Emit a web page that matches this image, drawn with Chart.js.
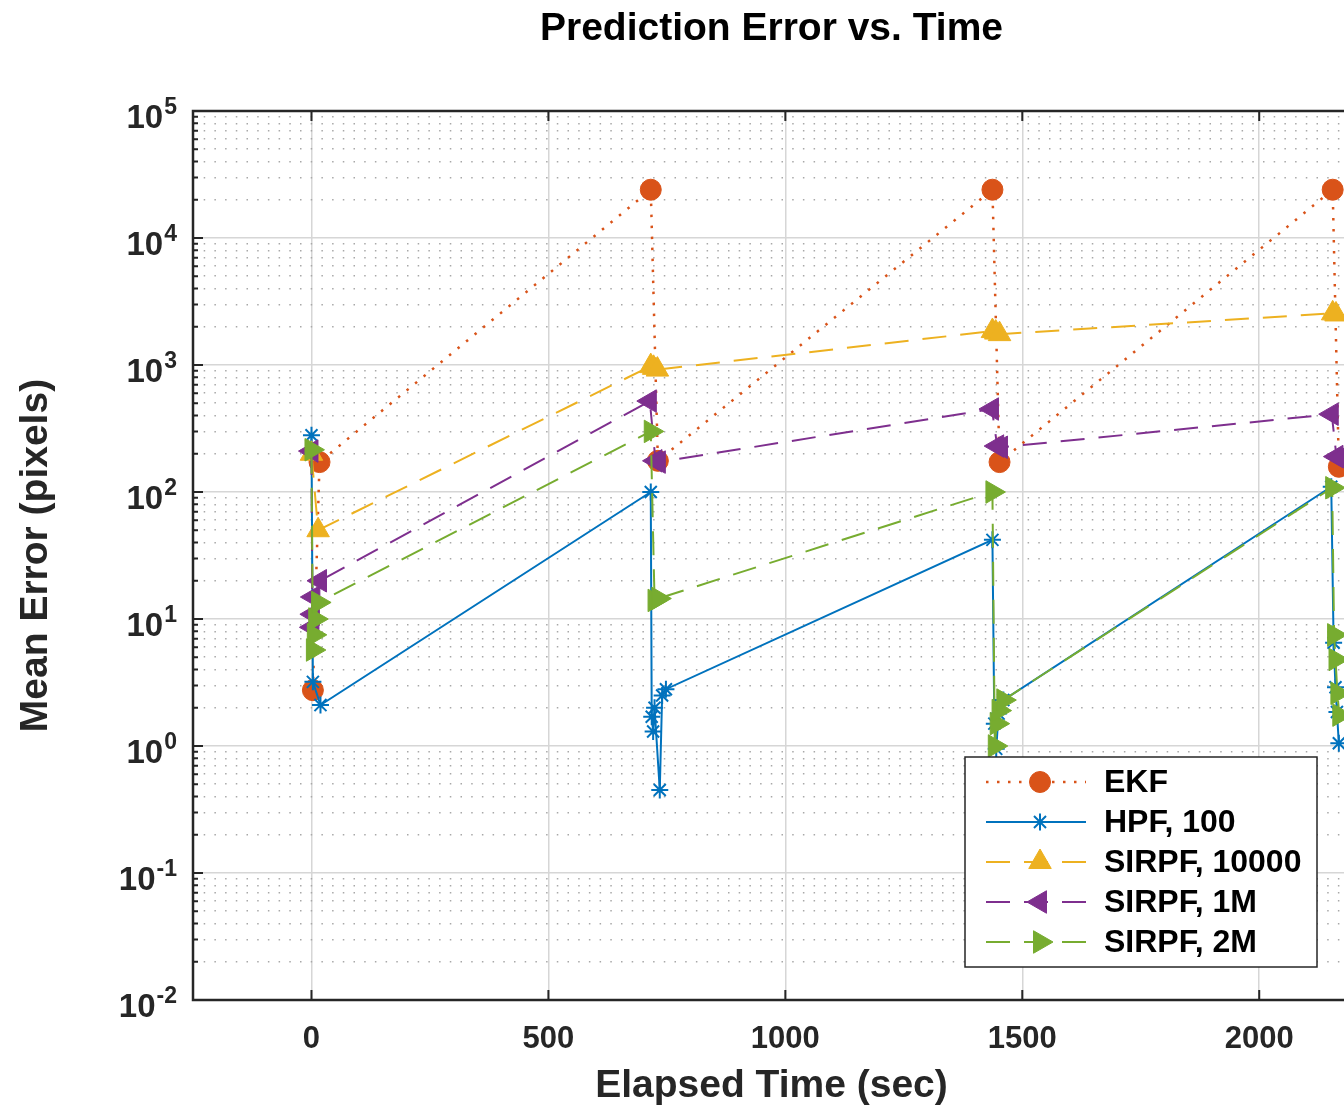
<!DOCTYPE html>
<html>
<head>
<meta charset="utf-8">
<title>Prediction Error vs. Time</title>
<script src="https://cdn.jsdelivr.net/npm/chart.js@4.4.1/dist/chart.umd.min.js"></script>
<style>
  html, body { margin: 0; padding: 0; background: #fff; overflow: hidden; }
  #wrap { width: 1400px; height: 1110px; }
</style>
</head>
<body>
<div id="wrap"><canvas id="errorChart" width="1400" height="1110"></canvas></div>
<script>
// elapsed time (sec) and mean error (pixels)
const ekfTime = [3, 17, 716, 731, 1437, 1452, 2155, 2168];
const ekfError = [2.75, 172, 24000, 176, 24000, 172, 24000, 158];

const hpfTime = [0, 3, 19, 716, 718, 721, 724, 735, 740, 748, 1437, 1441, 1445, 1450, 1460, 2152, 2157, 2161, 2164, 2168];
const hpfError = [280, 3.2, 2.1, 100, 1.7, 1.3, 2.0, 0.45, 2.5, 2.8, 42, 1.5, 0.95, 1.8, 2.3, 110, 6.5, 2.9, 1.85, 1.05];

const sir10kTime = [0, 14, 716, 722, 730, 1437, 1444, 1452, 2155, 2162];
const sir10kError = [200, 50, 980, 950, 920, 1850, 1800, 1750, 2550, 2500];

const sir1mTime = [0, 2, 3, 4, 18, 714, 726, 733, 1436, 1447, 1455, 2153, 2163, 2170];
const sir1mError = [210, 8.6, 10.9, 14.9, 20, 520, 176, 172, 450, 230, 225, 410, 190, 185];

const sir2mTime = [0, 3, 5, 8, 14, 716, 724, 732, 1437, 1442, 1446, 1450, 1460, 2154, 2158, 2161, 2165, 2169];
const sir2mError = [215, 5.7, 7.5, 10, 13.5, 300, 14, 14.5, 100, 1.0, 1.5, 1.9, 2.3, 108, 7.5, 4.8, 2.6, 1.75];

const seriesNames = ['EKF', 'HPF, 100', 'SIRPF, 10000', 'SIRPF, 1M', 'SIRPF, 2M'];
const xTicks = [0, 500, 1000, 1500, 2000];
const yDecades = [-2, -1, 0, 1, 2, 3, 4, 5];
const yMinorSteps = [2, 3, 4, 5, 6, 7, 8, 9];

const titleText = 'Prediction Error vs. Time';
const xLabel = 'Elapsed Time (sec)';
const yLabel = 'Mean Error (pixels)';

const FONT = '"Liberation Sans", Arial, Helvetica, sans-serif';

const toPoints = (t, v) => t.map((x, i) => ({ x: x, y: v[i] }));

const isDecade = (v) => Math.abs(Math.log10(v) - Math.round(Math.log10(v))) < 1e-6;

// all grid positions on the log axis (decades + minor steps)
const yGridValues = [];
yDecades.forEach((e) => {
  yGridValues.push(Math.pow(10, e));
  if (e < 5) yMinorSteps.forEach((m) => yGridValues.push(m * Math.pow(10, e)));
});

const makeSet = (i, time, err, color, dash, style, radius, rotation, width, order) => ({
  label: seriesNames[i],
  data: toPoints(time, err),
  showLine: true,
  borderColor: color,
  backgroundColor: color,
  borderWidth: width,
  borderDash: dash,
  pointStyle: style,
  pointRadius: radius,
  pointRotation: rotation,
  pointBorderWidth: style === 'star' ? 2 : 1,
  pointBorderColor: color,
  pointBackgroundColor: color,
  tension: 0,
  order: order,
});

const datasets = [
  makeSet(0, ekfTime, ekfError, '#D95319', [2.5, 8.5], 'circle', 10.5, 0, 2.5, 5),
  makeSet(1, hpfTime, hpfError, '#0072BD', [], 'star', 8.5, 0, 2, 4),
  makeSet(2, sir10kTime, sir10kError, '#EDB120', [24, 14], 'triangle', 13, 0, 2, 3),
  makeSet(3, sir1mTime, sir1mError, '#7E2F8E', [24, 14], 'triangle', 13, -90, 2, 2),
  makeSet(4, sir2mTime, sir2mError, '#77AC30', [24, 14], 'triangle', 13, 90, 2, 1),
];

const drawMarker = (ctx, ds, x, y) => {
  ctx.save();
  ctx.setLineDash([]);
  ctx.strokeStyle = ds.pointBorderColor;
  ctx.fillStyle = ds.pointBackgroundColor;
  ctx.lineWidth = ds.pointBorderWidth;
  Chart.helpers.drawPoint(ctx, {
    pointStyle: ds.pointStyle,
    rotation: ds.pointRotation,
    radius: ds.pointRadius,
    borderWidth: ds.pointBorderWidth,
  }, x, y);
  ctx.restore();
};

// MATLAB style axes: box, inward ticks, labels, title and legend
const matlabAxes = {
  id: 'matlabAxes',
  afterDraw(chart) {
    const { ctx, chartArea: a, scales } = chart;
    const xs = scales.x;
    const ys = scales.y;
    ctx.save();

    // ticks
    ctx.strokeStyle = '#262626';
    ctx.lineWidth = 2;
    ctx.beginPath();
    xTicks.forEach((v) => {
      const px = xs.getPixelForValue(v);
      ctx.moveTo(px, a.bottom); ctx.lineTo(px, a.bottom - 10);
      ctx.moveTo(px, a.top); ctx.lineTo(px, a.top + 10);
    });
    yGridValues.forEach((v) => {
      const py = ys.getPixelForValue(v);
      const len = isDecade(v) ? 10 : 5;
      ctx.moveTo(a.left, py); ctx.lineTo(a.left + len, py);
      ctx.moveTo(a.right, py); ctx.lineTo(a.right - len, py);
    });
    ctx.stroke();

    // box
    ctx.lineWidth = 2.5;
    ctx.strokeRect(a.left, a.top, a.right - a.left, a.bottom - a.top);

    // x tick labels
    ctx.fillStyle = '#262626';
    ctx.font = 'bold 31px ' + FONT;
    ctx.textAlign = 'center';
    ctx.textBaseline = 'alphabetic';
    xTicks.forEach((v) => ctx.fillText(String(v), xs.getPixelForValue(v), a.bottom + 48));

    // y tick labels 10^n
    ctx.textAlign = 'right';
    yDecades.forEach((e) => {
      const py = ys.getPixelForValue(Math.pow(10, e));
      ctx.font = 'bold 23px ' + FONT;
      const expText = String(e);
      const expW = ctx.measureText(expText).width;
      ctx.fillText(expText, 177, py + 3);
      ctx.font = 'bold 33px ' + FONT;
      ctx.fillText('10', 177 - expW - 1, py + 17);
    });

    // title and axis labels
    ctx.fillStyle = '#000';
    ctx.font = 'bold 39px ' + FONT;
    ctx.textAlign = 'center';
    const cx = (a.left + a.right) / 2;
    ctx.fillText(titleText, cx - 2, 40);
    ctx.fillStyle = '#262626';
    ctx.fillText(xLabel, cx - 2, 1097);
    ctx.save();
    ctx.translate(47, (a.top + a.bottom) / 2);
    ctx.rotate(-Math.PI / 2);
    ctx.fillText(yLabel, 0, 0);
    ctx.restore();

    // legend
    const lx = 965, ly = 757, lw = 352, lh = 210;
    ctx.fillStyle = '#fff';
    ctx.fillRect(lx, ly, lw, lh);
    ctx.strokeStyle = '#262626';
    ctx.lineWidth = 1.5;
    ctx.strokeRect(lx, ly, lw, lh);
    ctx.font = 'bold 32px ' + FONT;
    ctx.textAlign = 'left';
    ctx.textBaseline = 'middle';
    chart.data.datasets.forEach((ds, i) => {
      const ry = 782 + i * 40;
      ctx.save();
      ctx.strokeStyle = ds.borderColor;
      ctx.lineWidth = ds.borderWidth;
      ctx.setLineDash(ds.borderDash);
      ctx.beginPath();
      ctx.moveTo(986, ry); ctx.lineTo(1086, ry);
      ctx.stroke();
      ctx.restore();
      drawMarker(ctx, ds, 1040, ry);
      ctx.fillStyle = '#000';
      ctx.fillText(ds.label, 1104, ry + 1);
    });

    ctx.restore();
  },
};

new Chart(document.getElementById('errorChart'), {
  type: 'scatter',
  data: { datasets: datasets },
  options: {
    responsive: false,
    animation: false,
    events: [],
    layout: { padding: { left: 193, top: 111, right: 46, bottom: 110 } },
    plugins: {
      legend: { display: false },
      tooltip: { enabled: false },
      title: { display: false },
    },
    scales: {
      x: {
        type: 'linear',
        min: -250,
        max: 2200,
        afterBuildTicks: (s) => { s.ticks = xTicks.map((v) => ({ value: v })); },
        grid: { color: '#d6d6d6', lineWidth: 1.5, drawTicks: false },
        border: { display: false },
        ticks: { display: false },
      },
      y: {
        type: 'logarithmic',
        min: 0.01,
        max: 100000,
        afterBuildTicks: (s) => { s.ticks = yGridValues.map((v) => ({ value: v })); },
        grid: {
          color: (c) => (c.tick && isDecade(c.tick.value) ? '#d6d6d6' : '#a8a8a8'),
          lineWidth: 1.5,
          drawTicks: false,
        },
        border: {
          display: false,
          dash: (c) => (c.tick && isDecade(c.tick.value) ? [] : [1.5, 9.2]),
        },
        ticks: { display: false },
      },
    },
  },
  plugins: [matlabAxes],
});
</script>
</body>
</html>
